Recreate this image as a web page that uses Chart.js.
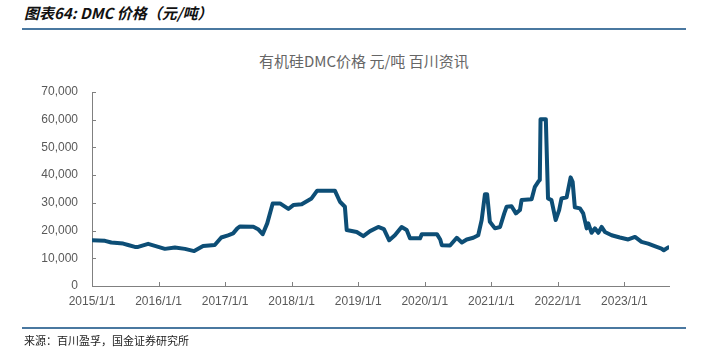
<!DOCTYPE html>
<html>
<head>
<meta charset="utf-8">
<script src="https://cdn.jsdelivr.net/npm/chart.js@4"></script>
<style>
  body { margin: 0; width: 704px; height: 352px; background: #fff; position: relative; overflow: hidden; font-family: "Noto Sans CJK SC", sans-serif; }
  #head { position: absolute; left: 24px; top: 2px; font-size: 15px; font-weight: bold; font-style: italic; color: #111; }
  #headLine { position: absolute; left: 22px; top: 28px; width: 664px; height: 2px; background: #4a78a0; }
  #footLine { position: absolute; left: 22px; top: 327px; width: 664px; height: 2px; background: #4a78a0; }
  #foot { position: absolute; left: 24px; top: 332px; font-size: 11px; color: #222; }
  #title { position: absolute; left: 259px; width: 200px; top: 50px; text-align: center; font-size: 15px; color: #666; white-space: nowrap; }
  #wrap { position: absolute; left: 0; top: 0; width: 704px; height: 352px; }
</style>
</head>
<body>
<div id="head">图表64: DMC 价格（元/吨）</div>
<div id="headLine"></div>
<div id="title">有机硅DMC价格 元/吨 百川资讯</div>
<div id="wrap"><canvas id="dmcChart"></canvas></div>
<div id="footLine"></div>
<div id="foot">来源：百川盈孚，国金证券研究所</div>

<script>
// DMC price (yuan/ton)
const dates = [
  "2015-01-01", "2015-03-13", "2015-04-17", "2015-06-21", "2015-07-18", "2015-08-24", "2015-09-11",
  "2015-11-05", "2015-12-12", "2016-02-05", "2016-03-31", "2016-05-25", "2016-07-15", "2016-09-02",
  "2016-11-05", "2016-12-11", "2017-01-17", "2017-02-14", "2017-03-09", "2017-03-24", "2017-06-05",
  "2017-07-01", "2017-07-26", "2017-08-20", "2017-09-19", "2017-10-29", "2017-12-14", "2018-01-10",
  "2018-02-25", "2018-04-20", "2018-05-21", "2018-08-26", "2018-09-23", "2018-10-20", "2018-10-30",
  "2018-12-24", "2019-01-29", "2019-03-07", "2019-04-21", "2019-05-22", "2019-06-20", "2019-07-21",
  "2019-08-27", "2019-09-24", "2019-10-12", "2019-12-06", "2019-12-16", "2020-03-08", "2020-03-26",
  "2020-04-04", "2020-05-19", "2020-06-25", "2020-07-23", "2020-08-19", "2020-09-24", "2020-10-21",
  "2020-11-09", "2020-11-27", "2020-12-09", "2020-12-24", "2021-01-21", "2021-02-18", "2021-03-13",
  "2021-03-26", "2021-04-22", "2021-05-16", "2021-06-07", "2021-06-16", "2021-08-10", "2021-08-28",
  "2021-09-15", "2021-09-24", "2021-09-28", "2021-10-27", "2021-11-08", "2021-11-27", "2021-12-20",
  "2022-01-08", "2022-01-21", "2022-02-18", "2022-03-12", "2022-03-23", "2022-04-04", "2022-05-02",
  "2022-05-20", "2022-06-08", "2022-06-17", "2022-07-05", "2022-07-23", "2022-08-11", "2022-08-29",
  "2022-09-16", "2022-10-23", "2022-12-07", "2023-01-22", "2023-02-28", "2023-04-05", "2023-05-11",
  "2023-06-16", "2023-07-23", "2023-08-05", "2023-08-29"
];
const prices = [
  16500, 16300, 15700, 15300, 14800, 14100, 14100,
  15200, 14500, 13400, 13900, 13400, 12600, 14400,
  14800, 17500, 18300, 19000, 20800, 21500, 21400,
  20500, 18700, 22600, 29800, 29800, 27800, 29200,
  29500, 31600, 34400, 34400, 30400, 28600, 20200,
  19500, 18000, 19800, 21300, 20500, 16500, 18300,
  21300, 20200, 17200, 17200, 18700, 18700, 16800,
  14700, 14600, 17400, 15700, 16800, 17400, 18300,
  23800, 33100, 33100, 23200, 20800, 21300, 26200,
  28600, 28800, 26200, 27400, 31000, 31300, 35800,
  37600, 38300, 60200, 60200, 31600, 31000, 23800,
  27400, 31600, 32000, 39200, 37600, 28400, 28000,
  26200, 20800, 22600, 19200, 20800, 19200, 21300,
  19500, 18300, 17500, 16800, 17700, 15900, 15300,
  14400, 13500, 12900, 13900
];
const yTicks = [0, 10000, 20000, 30000, 40000, 50000, 60000, 70000];
const firstYear = 2015;
const yearTicks = [0, 1, 2, 3, 4, 5, 6, 7, 8]; // 2015/1/1 ... 2023/1/1

// date string -> years since 2015/1/1 (Jan 1 lands on whole numbers)
function toYears(s) {
  const [y, m, d] = s.split("-").map(Number);
  const start = Date.UTC(y, 0, 1);
  const end = Date.UTC(y + 1, 0, 1);
  return (y - firstYear) + (Date.UTC(y, m - 1, d) - start) / (end - start);
}

// small tick marks pointing into the plot area
const innerTicks = {
  id: "innerTicks",
  afterDraw(chart) {
    const { ctx, scales: { x, y } } = chart;
    ctx.save();
    ctx.strokeStyle = "#808080";
    ctx.lineWidth = 1;
    ctx.beginPath();
    y.ticks.forEach((t, i) => {
      const py = Math.round(y.getPixelForTick(i)) + 0.5;
      ctx.moveTo(y.right, py);
      ctx.lineTo(y.right + 4, py);
    });
    x.ticks.forEach((t, i) => {
      const px = Math.round(x.getPixelForTick(i)) + 0.5;
      ctx.moveTo(px, x.top);
      ctx.lineTo(px, x.top - 4);
    });
    ctx.stroke();
    ctx.restore();
  }
};

const ctx = document.getElementById("dmcChart").getContext("2d");

new Chart(ctx, {
  type: "line",
  data: {
    datasets: [{
      label: "DMC",
      data: dates.map((d, i) => ({ x: toYears(d), y: prices[i] })),
      borderColor: "#0d4e76",
      borderWidth: 4,
      pointRadius: 0,
      tension: 0,
      borderJoinStyle: "round",
      borderCapStyle: "round"
    }]
  },
  options: {
    responsive: true,
    maintainAspectRatio: false,
    animation: false,
    layout: { padding: { left: 0, top: 92, right: 35, bottom: 0 } },
    plugins: {
      legend: { display: false },
      tooltip: { enabled: false }
    },
    scales: {
      x: {
        type: "linear",
        min: 0,
        max: 8.67,
        afterBuildTicks: (scale) => {
          scale.ticks = yearTicks.map(v => ({ value: v }));
        },
        afterFit: (scale) => { scale.height = 66; },
        grid: { display: false, drawTicks: false },
        border: { display: true, color: "#808080", width: 1 },
        ticks: {
          autoSkip: false,
          maxRotation: 0,
          padding: 8,
          color: "#595959",
          font: { family: "Liberation Sans", size: 12 },
          callback: (v) => (firstYear + v) + "/1/1"
        }
      },
      y: {
        min: 0,
        max: 70000,
        afterBuildTicks: (scale) => {
          scale.ticks = yTicks.map(v => ({ value: v }));
        },
        afterFit: (scale) => { scale.width = 92; },
        grid: { display: false, drawTicks: false },
        border: { display: true, color: "#808080", width: 1 },
        ticks: {
          padding: 14,
          color: "#595959",
          font: { family: "Liberation Sans", size: 12 },
          callback: (v) => v.toLocaleString("en-US")
        }
      }
    }
  },
  plugins: [innerTicks]
});
</script>
</body>
</html>
